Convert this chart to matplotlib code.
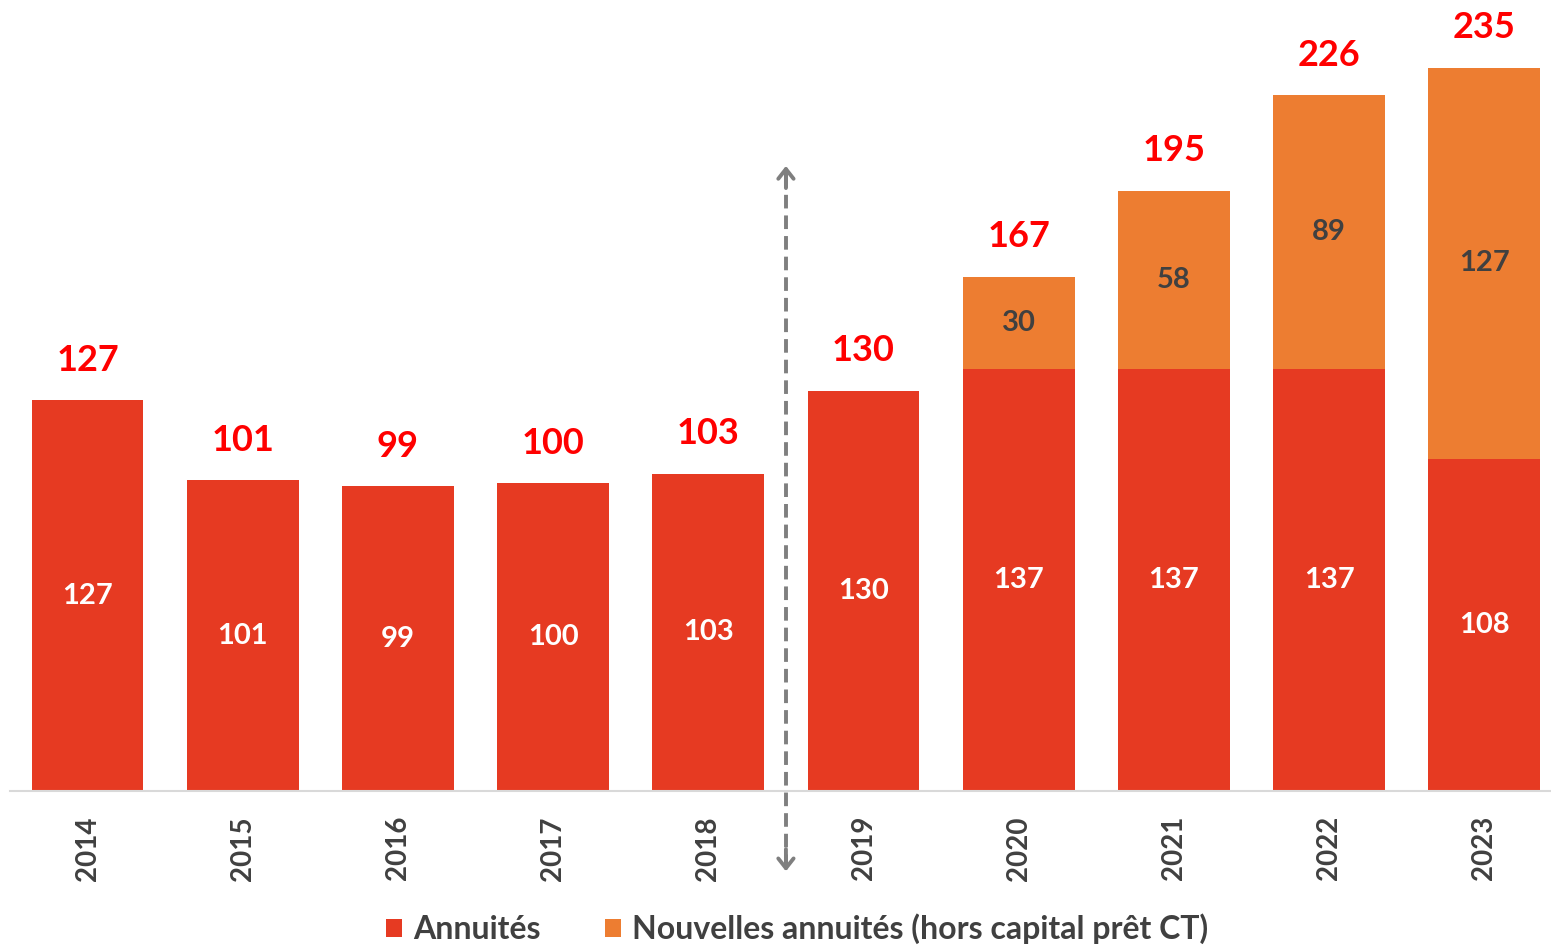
import matplotlib.pyplot as plt

# data
years = ["2014", "2015", "2016", "2017", "2018", "2019", "2020", "2021", "2022", "2023"]
annuites = [127, 101, 99, 100, 103, 130, 137, 137, 137, 108]
nouvelles = [0, 0, 0, 0, 0, 0, 30, 58, 89, 127]
totals = [a + n for a, n in zip(annuites, nouvelles)]

red = "#E63A22"
orange = "#ED7D31"
grey_txt = "#404040"

plt.rcParams["font.family"] = ["Lato", "DejaVu Sans"]

fig = plt.figure(figsize=(15.51, 9.47), dpi=100)
ax = fig.add_axes([10 / 1551, 156 / 947, 1 - 10 / 1551, 791 / 947])

x = range(len(years))
ax.bar(x, annuites, width=0.72, color=red, label="Annuités")
ax.bar(x, nouvelles, width=0.72, bottom=annuites, color=orange,
       label="Nouvelles annuités (hors capital prêt CT)")

for i in x:
    ax.text(i, annuites[i] / 2, str(annuites[i]), ha="center", va="center",
            color="white", fontsize=21, fontweight="bold")
    if nouvelles[i]:
        ax.text(i, annuites[i] + nouvelles[i] / 2, str(nouvelles[i]), ha="center",
                va="center", color=grey_txt, fontsize=21, fontweight="bold")
    ax.text(i, totals[i] + 13, str(totals[i]), ha="center", va="center",
            color="#FF0000", fontsize=26, fontweight="bold")

ax.set_xlim(-0.5, 9.43)
ax.set_ylim(0, 257)
ax.set_xticks(list(x))
ax.set_xticklabels(years, rotation=90, fontsize=20, fontweight="bold", color=grey_txt)
ax.tick_params(axis="x", length=0, pad=18)
ax.set_yticks([])
for s in ["top", "right", "left"]:
    ax.spines[s].set_visible(False)
ax.spines["bottom"].set_color("#d9d9d9")
ax.spines["bottom"].set_linewidth(1.5)

# dashed double arrow between 2018 and 2019
arrow_grey = "#7f7f7f"
ax.plot([4.5, 4.5], [-25, 202], ls=(0, (3.5, 1.8)), color=arrow_grey, lw=2.8, clip_on=False)
head = dict(arrowstyle="->,head_width=0.55,head_length=0.7", color=arrow_grey, lw=2.8)
ax.annotate("", xy=(4.5, 204), xytext=(4.5, 195), annotation_clip=False, arrowprops=head)
ax.annotate("", xy=(4.5, -27), xytext=(4.5, -18), annotation_clip=False, arrowprops=head)

leg = fig.legend(loc="center", bbox_to_anchor=(0.514, 0.019), ncol=2, frameon=False,
                 prop={"size": 23, "weight": "bold"}, handlelength=0.5, handleheight=0.5,
                 handletextpad=0.35, columnspacing=2.0)
for t in leg.get_texts():
    t.set_color(grey_txt)

fig.savefig("out.png", dpi=100)
